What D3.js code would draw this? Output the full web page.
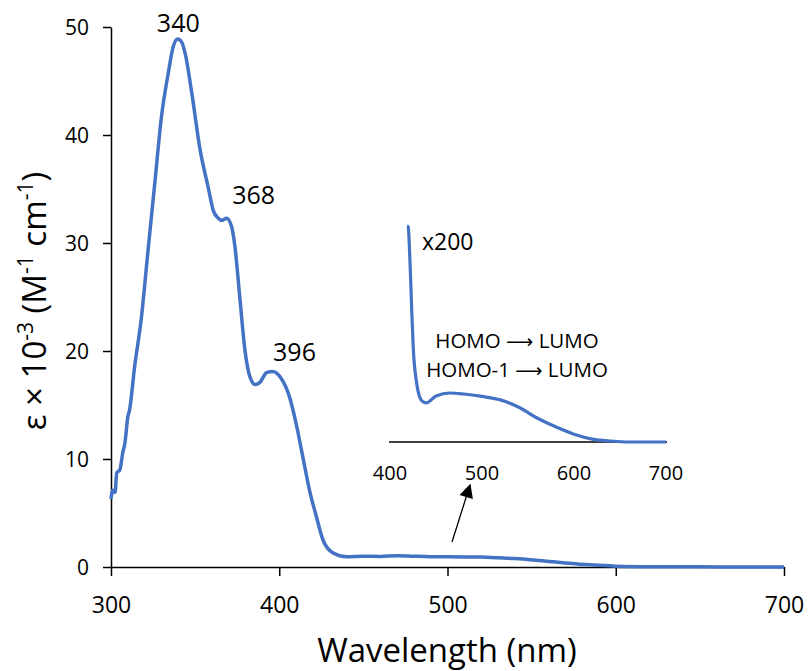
<!DOCTYPE html>
<html>
<head>
<meta charset="utf-8">
<script src="https://cdn.jsdelivr.net/npm/d3@7"></script>
<style>
  body { margin: 0; background: #fff; }
  svg text { font-family: "Open Sans", "Liberation Sans", sans-serif; fill: #000; }
</style>
</head>
<body>
<svg id="chart" width="809" height="671"></svg>
<script>
// Absorption spectrum: wavelength (nm) and molar absorptivity (ε × 10⁻³, M⁻¹ cm⁻¹)
const wavelength = [300, 301, 302.4, 303.4, 305.3, 307, 308.3, 310, 311, 314, 318, 322, 326, 330, 334, 337, 339.6, 342, 344, 348, 353, 357.7, 360.8, 363.7, 366, 368.7, 371.7, 373.7, 376.7, 379.6, 382.6, 385.6, 388.5, 392.5, 396, 401, 406, 410, 414, 418, 422, 426, 432, 440, 450, 460, 470, 480, 490, 500, 511, 520, 530, 540, 551, 560, 570, 585, 600, 620, 650, 680, 700];
const epsilon    = [6.3, 7.1, 6.9, 8.7, 9.0, 10.6, 11.5, 13.9, 14.5, 18.5, 23.0, 29.3, 35.5, 41.7, 45.7, 48.2, 48.9, 48.6, 47.6, 43.9, 38.6, 35.2, 33.0, 32.3, 32.1, 32.3, 31.5, 29.6, 24.7, 20.1, 17.6, 16.9, 17.1, 18.0, 18.1, 17.5, 15.8, 13.3, 10.2, 7.1, 4.7, 2.5, 1.3, 0.95, 1.0, 0.98, 1.05, 1.0, 0.96, 0.95, 0.93, 0.92, 0.85, 0.78, 0.65, 0.52, 0.38, 0.2, 0.08, 0.03, 0.02, 0.0, 0.0];

// Inset: weak long-wavelength band recorded ×200
const insetWavelength = [418.5, 419.6, 421.7, 423.6, 425.4, 429, 432.6, 436, 440, 450, 465, 480, 500, 520, 540, 560, 580, 600, 620, 640, 660, 680, 700];
const insetValue      = [4.4, 4.4, 3.7, 2.7, 1.88, 1.2, 0.9, 0.82, 0.8, 0.94, 1.0, 0.98, 0.93, 0.86, 0.71, 0.49, 0.31, 0.16, 0.06, 0.02, 0.0, 0.0, 0.0];

const xTicks = [300, 400, 500, 600, 700];
const yTicks = [0, 10, 20, 30, 40, 50];
const insetTicks = [400, 500, 600, 700];

const peakLabels = [
  { text: "340", wl: 340, eps: 48.9, dx: 0, dy: -7 },
  { text: "368", wl: 368.7, eps: 32.3, dx: 27, dy: -14 },
  { text: "396", wl: 396, eps: 18.1, dx: 22, dy: -11 }
];

const transitions = ["HOMO", "HOMO-1"];

const lineColor = "#4472C4";
const svg = d3.select("#chart");

const x = d3.scaleLinear().domain([300, 700]).range([111, 784]);
const y = d3.scaleLinear().domain([0, 50]).range([567, 27]);

// Axes
const xAxis = svg.append("g")
  .attr("transform", `translate(0,${y(0)})`)
  .call(d3.axisBottom(x).tickValues(xTicks).tickSizeInner(9).tickSizeOuter(0).tickPadding(21));
const yAxis = svg.append("g")
  .attr("transform", `translate(${x(300)},0)`)
  .call(d3.axisLeft(y).tickValues(yTicks).tickSizeInner(8).tickSizeOuter(0).tickPadding(14));
[xAxis, yAxis].forEach(g => {
  g.select(".domain").attr("stroke", "#000").attr("stroke-width", 1.5);
  g.selectAll(".tick line").attr("stroke", "#000").attr("stroke-width", 1.5);
});
xAxis.selectAll("text").style("font-size", "23px");
yAxis.selectAll("text").style("font-size", "21px").attr("dy", "0.35em");

// Axis titles
svg.append("text")
  .attr("x", 447).attr("y", 662)
  .attr("text-anchor", "middle")
  .style("font-size", "33px")
  .text("Wavelength (nm)");

const yTitle = svg.append("text")
  .attr("transform", "translate(46,301) rotate(-90)")
  .attr("text-anchor", "middle")
  .style("font-size", "33px");
yTitle.append("tspan").text("ε × 10");
yTitle.append("tspan").attr("dy", -13).style("font-size", "21px").text("-3");
yTitle.append("tspan").attr("dy", 13).text(" (M");
yTitle.append("tspan").attr("dy", -13).style("font-size", "21px").text("-1");
yTitle.append("tspan").attr("dy", 13).text(" cm");
yTitle.append("tspan").attr("dy", -13).style("font-size", "21px").text("-1");
yTitle.append("tspan").attr("dy", 13).text(")");

// Main spectrum
const line = d3.line()
  .x((d, i) => x(wavelength[i]))
  .y(d => y(d))
  .curve(d3.curveMonotoneX);
svg.append("path")
  .datum(epsilon)
  .attr("fill", "none")
  .attr("stroke", lineColor)
  .attr("stroke-width", 3.5)
  .attr("stroke-linejoin", "round")
  .attr("d", line);

// Peak labels
svg.selectAll(".peak").data(peakLabels).enter().append("text")
  .attr("class", "peak")
  .attr("x", d => x(d.wl) + d.dx)
  .attr("y", d => y(d.eps) + d.dy)
  .attr("text-anchor", "middle")
  .style("font-size", "25px")
  .text(d => d.text);

// Inset
const xi = d3.scaleLinear().domain([400, 700]).range([390, 666]);
const yi = d3.scaleLinear().domain([0, 1]).range([442, 393]);

svg.append("line")
  .attr("x1", 389).attr("x2", 667)
  .attr("y1", yi(0)).attr("y2", yi(0))
  .attr("stroke", "#000").attr("stroke-width", 1.5);

svg.selectAll(".itick").data(insetTicks).enter().append("text")
  .attr("class", "itick")
  .attr("x", d => xi(d))
  .attr("y", 480)
  .attr("text-anchor", "middle")
  .style("font-size", "20px")
  .text(d => d);

const insetLine = d3.line()
  .x((d, i) => xi(insetWavelength[i]))
  .y(d => yi(d))
  .curve(d3.curveMonotoneX);
svg.append("path")
  .datum(insetValue)
  .attr("fill", "none")
  .attr("stroke", lineColor)
  .attr("stroke-width", 3.2)
  .attr("d", insetLine);

svg.append("text")
  .attr("x", 422).attr("y", 250)
  .style("font-size", "23px")
  .text("x200");

// Transition assignments
const tr = svg.selectAll(".trans").data(transitions).enter().append("text")
  .attr("class", "trans")
  .attr("x", 517)
  .attr("y", (d, i) => 348 + i * 29)
  .attr("text-anchor", "middle")
  .style("font-size", "20.5px");
tr.append("tspan").text(d => d + " ");
tr.append("tspan").style("font-family", "DejaVu Sans").style("font-size", "19px").text("⟶");
tr.append("tspan").text(" LUMO");

// Arrow pointing from the weak band to the inset
svg.append("defs").append("marker")
  .attr("id", "head")
  .attr("viewBox", "0 0 10 10")
  .attr("refX", 9).attr("refY", 5)
  .attr("markerWidth", 16).attr("markerHeight", 14)
  .attr("markerUnits", "userSpaceOnUse")
  .attr("orient", "auto")
  .append("path").attr("d", "M0,0 L10,5 L0,10 Z").attr("fill", "#000");
svg.append("line")
  .attr("x1", 452).attr("y1", 542)
  .attr("x2", 470).attr("y2", 485)
  .attr("stroke", "#000").attr("stroke-width", 1.3)
  .attr("marker-end", "url(#head)");
</script>
</body>
</html>
